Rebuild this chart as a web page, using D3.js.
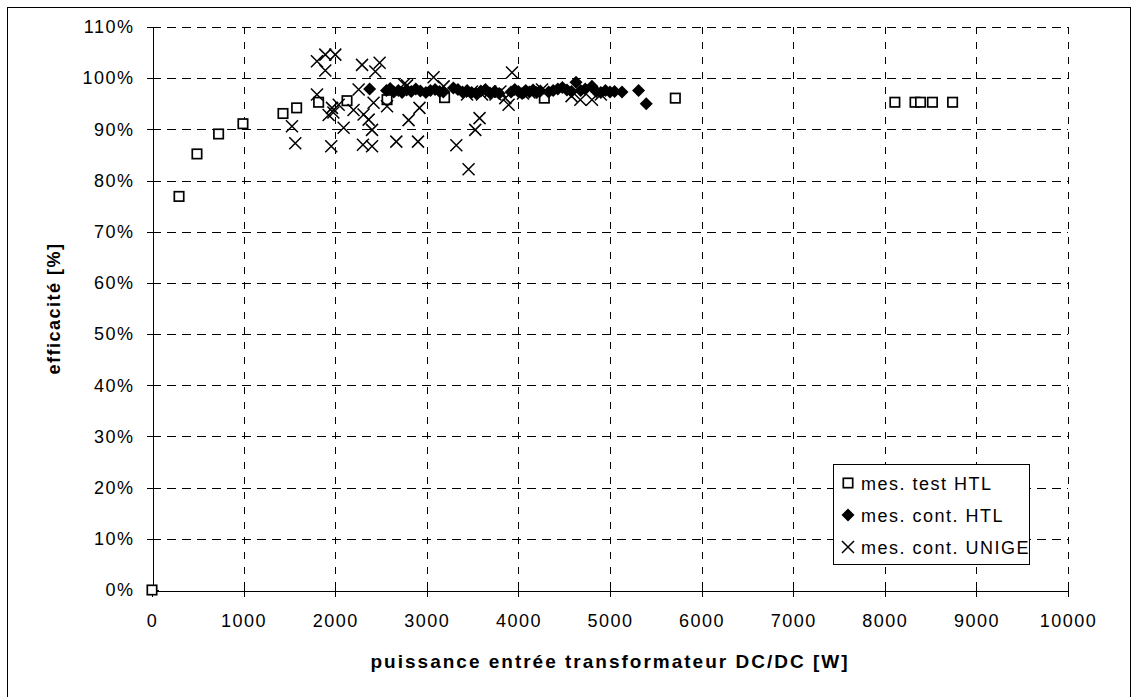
<!DOCTYPE html>
<html>
<head>
<meta charset="utf-8">
<script src="https://cdn.jsdelivr.net/npm/d3@7"></script>
<style>
  html, body { margin: 0; padding: 0; background: #fff; }
  svg { display: block; font-family: "Liberation Sans", Arial, sans-serif; }
</style>
</head>
<body>
<svg id="chart" width="1132" height="697"></svg>
<script>
// Series: input power of the DC/DC converter [W] and measured efficiency [%]
const testPower = [0, 295, 491, 727, 993, 1430, 1579, 1819, 2129, 2566, 3194, 4283, 5713, 8110, 8330, 8390, 8520, 8740];
const testEff   = [0, 76.9, 85.2, 89.1, 91.1, 93.1, 94.2, 95.3, 95.6, 95.8, 96.2, 96.1, 96.1, 95.3, 95.3, 95.3, 95.3, 95.3];

const contPower = [2376, 2560, 2600, 2640, 2690, 2730, 2780, 2830, 2880, 2930, 2990, 3040, 3090, 3140, 3180,
                   3290, 3340, 3390, 3440, 3490, 3540, 3590, 3640, 3690, 3740, 3790, 3920, 3960, 4000, 4040,
                   4080, 4120, 4160, 4200, 4240, 4330, 4380, 4430, 4480, 4530, 4580, 4629, 4680, 4730, 4803,
                   4850, 4900, 4950, 5000, 5050, 5131, 5312, 5396];
const contEff   = [97.9, 97.6, 98.0, 97.3, 97.6, 97.2, 97.7, 97.4, 97.9, 97.5, 97.2, 97.6, 97.8, 97.4, 97.3,
                   98.1, 97.8, 97.3, 97.6, 97.2, 97.0, 97.5, 97.8, 97.1, 97.4, 97.0, 97.3, 97.8, 97.4, 97.0,
                   97.6, 97.3, 97.7, 97.2, 97.5, 97.3, 97.6, 97.9, 98.2, 97.7, 97.4, 99.2, 97.6, 97.9, 98.4,
                   97.4, 97.2, 97.6, 97.3, 97.4, 97.3, 97.6, 95.0];

const unigePower = [1528, 1564, 1801, 1801, 1892, 1892, 1928, 1965, 1957, 2001, 2038, 1980, 2092, 2200, 2256,
                    2293, 2310, 2303, 2365, 2402, 2402, 2419, 2438, 2485, 2566, 2667, 2750, 2784, 2801, 2904,
                    2920, 3074, 3184, 3322, 3439, 3456, 3493, 3529, 3576, 3603, 3693, 3750, 3803, 3857, 3893,
                    3930, 4050, 4120, 4258, 4580, 4676, 4803, 4900];
const unigeEff   = [90.6, 87.3, 103.3, 96.8, 104.6, 101.5, 92.8, 94.2, 86.7, 104.6, 94.8, 93.3, 90.3, 93.8, 97.8,
                    102.6, 92.9, 87.0, 91.9, 89.9, 86.7, 95.2, 101.3, 103.0, 94.5, 87.6, 98.8, 98.6, 91.8, 87.6,
                    94.2, 100.2, 98.4, 86.9, 96.8, 82.2, 97.4, 89.9, 92.2, 96.8, 97.4, 96.8, 97.4, 96.1, 94.8,
                    101.1, 97.0, 97.2, 97.8, 96.5, 95.8, 95.8, 96.8];

const xTicks = [0, 1000, 2000, 3000, 4000, 5000, 6000, 7000, 8000, 9000, 10000];
const yTicks = [0, 10, 20, 30, 40, 50, 60, 70, 80, 90, 100, 110];
const legendLabels = ["mes. test HTL", "mes. cont. HTL", "mes. cont. UNIGE"];

const svg = d3.select("#chart");

// outer chart frame
svg.append("rect")
  .attr("x", 7.5).attr("y", 7.5)
  .attr("width", 1123).attr("height", 700)
  .attr("fill", "none").attr("stroke", "#000").attr("stroke-width", 1);

const x = d3.scaleLinear().domain([0, 10000]).range([152, 1068]);
const y = d3.scaleLinear().domain([0, 110]).range([590, 27]);

const grid = svg.append("g").attr("shape-rendering", "crispEdges");
grid.selectAll("line.h").data(yTicks.filter(d => d > 0)).join("line")
  .attr("x1", x(0)).attr("x2", x(10000))
  .attr("y1", d => Math.round(y(d)) + 0.5).attr("y2", d => Math.round(y(d)) + 0.5)
  .attr("stroke", "#000").attr("stroke-dasharray", "9,6");
grid.selectAll("line.v").data(xTicks.filter(d => d > 0)).join("line")
  .attr("x1", d => Math.round(x(d)) + 0.5).attr("x2", d => Math.round(x(d)) + 0.5)
  .attr("y1", y(110)).attr("y2", y(0))
  .attr("stroke", "#000").attr("stroke-dasharray", "7,8");

const tickFont = 18;

// y axis
const gy = svg.append("g")
  .attr("transform", `translate(${x(0) + 0.5},0)`)
  .call(d3.axisLeft(y).tickValues(yTicks).tickFormat(d => d + "%").tickSize(6).tickPadding(12));
gy.select(".domain").attr("stroke", "#000").attr("shape-rendering", "crispEdges");
gy.selectAll(".tick line").attr("x1", -6).attr("x2", 6).attr("stroke", "#000").attr("shape-rendering", "crispEdges");
gy.selectAll(".tick text")
  .attr("font-size", tickFont).attr("letter-spacing", "1.5px")
  .attr("font-family", "Liberation Sans, Arial, sans-serif").attr("fill", "#000");

// x axis
const gx = svg.append("g")
  .attr("transform", `translate(0,${y(0) + 0.5})`)
  .call(d3.axisBottom(x).tickValues(xTicks).tickFormat(d3.format("d")).tickSize(6).tickPadding(18));
gx.select(".domain").attr("stroke", "#000").attr("shape-rendering", "crispEdges");
gx.selectAll(".tick line").attr("y1", -6).attr("y2", 6).attr("stroke", "#000").attr("shape-rendering", "crispEdges");
gx.selectAll(".tick text")
  .attr("font-size", tickFont).attr("letter-spacing", "1.5px")
  .attr("font-family", "Liberation Sans, Arial, sans-serif").attr("fill", "#000");

// axis titles
svg.append("text")
  .attr("x", (x(0) + x(10000)) / 2).attr("y", 668)
  .attr("text-anchor", "middle").attr("font-weight", "bold")
  .attr("font-size", 19).attr("letter-spacing", "2px")
  .text("puissance entrée transformateur DC/DC [W]");

svg.append("text")
  .attr("transform", `translate(60,${(y(0) + y(110)) / 2}) rotate(-90)`)
  .attr("text-anchor", "middle").attr("font-weight", "bold")
  .attr("font-size", 18).attr("letter-spacing", "1.5px")
  .text("efficacité [%]");

// marker helpers
const half = 4.7;
function drawSquares(g, xs, ys) {
  g.selectAll("rect").data(xs.map((v, i) => [v, ys[i]])).join("rect")
    .attr("x", d => x(d[0]) - half).attr("y", d => y(d[1]) - half)
    .attr("width", half * 2).attr("height", half * 2)
    .attr("fill", "#fff").attr("stroke", "#000").attr("stroke-width", 1.7);
}
const dr = 6.5;
function diamondPath(cx, cy) {
  return `M${cx},${cy - dr}L${cx + dr},${cy}L${cx},${cy + dr}L${cx - dr},${cy}Z`;
}
function drawDiamonds(g, xs, ys) {
  g.selectAll("path").data(xs.map((v, i) => [v, ys[i]])).join("path")
    .attr("d", d => diamondPath(x(d[0]), y(d[1])))
    .attr("fill", "#000");
}
const xr = 6;
function crossPath(cx, cy) {
  return `M${cx - xr},${cy - xr}L${cx + xr},${cy + xr}M${cx - xr},${cy + xr}L${cx + xr},${cy - xr}`;
}
function drawCrosses(g, xs, ys) {
  g.selectAll("path").data(xs.map((v, i) => [v, ys[i]])).join("path")
    .attr("d", d => crossPath(x(d[0]), y(d[1])))
    .attr("fill", "none").attr("stroke", "#000").attr("stroke-width", 1.5);
}

drawSquares(svg.append("g"), testPower, testEff);
drawDiamonds(svg.append("g"), contPower, contEff);
drawCrosses(svg.append("g"), unigePower, unigeEff);

// legend
const lg = svg.append("g");
lg.append("rect")
  .attr("x", 833.5).attr("y", 464.5).attr("width", 196).attr("height", 100)
  .attr("fill", "#fff").attr("stroke", "#000");
const rowY = [483, 515, 547];
legendLabels.forEach((lab, i) => {
  const cx = 848, cy = rowY[i];
  if (i === 0) {
    lg.append("rect").attr("x", cx - half).attr("y", cy - half)
      .attr("width", half * 2).attr("height", half * 2)
      .attr("fill", "#fff").attr("stroke", "#000").attr("stroke-width", 1.7);
  } else if (i === 1) {
    lg.append("path").attr("d", diamondPath(cx, cy)).attr("fill", "#000");
  } else {
    lg.append("path").attr("d", crossPath(cx, cy))
      .attr("stroke", "#000").attr("stroke-width", 1.5).attr("fill", "none");
  }
  lg.append("text")
    .attr("x", 861).attr("y", cy + 6.5)
    .attr("font-size", 18).attr("letter-spacing", "1.5px")
    .text(lab);
});
</script>
</body>
</html>
